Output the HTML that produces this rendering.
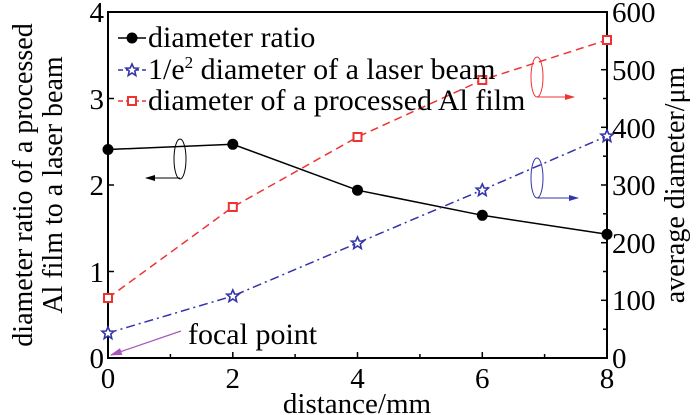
<!DOCTYPE html>
<html><head><meta charset="utf-8"><style>body{margin:0;background:#fff}svg{display:block}svg,svg text,svg tspan{font-family:"Liberation Serif","Times New Roman",Times,"DejaVu Serif","Noto Serif CJK SC",serif !important}</style></head><body>
<svg width="700" height="415" viewBox="0 0 700 415" style="font-family:'Liberation Serif','Times New Roman','DejaVu Serif','Noto Serif CJK SC',serif">
<defs>
<marker id="ak" markerWidth="10" markerHeight="6" refX="9" refY="3" orient="auto"><path d="M0,0 L10,3 L0,6z" fill="#000"/></marker>
<marker id="ar" markerWidth="10" markerHeight="6" refX="9" refY="3" orient="auto"><path d="M0,0 L10,3 L0,6z" fill="#e33"/></marker>
<marker id="ab" markerWidth="10" markerHeight="6" refX="9" refY="3" orient="auto"><path d="M0,0 L10,3 L0,6z" fill="#33a"/></marker>
<marker id="ap" markerWidth="10" markerHeight="6" refX="9" refY="3" orient="auto"><path d="M0,0 L10,3 L0,6z" fill="#a5b"/></marker>
<path id="st" d="M0,-6 L1.8,-2 6,-1.8 2.8,1 3.8,5.5 0,3 -3.8,5.5 -2.8,1 -6,-1.8 -1.8,-2z"/>
</defs>
<rect x="108" y="12" width="499" height="346" fill="none" stroke="#000" stroke-width="2"/>
<g stroke="#000" stroke-width="1.5">
<line x1="108" y1="271.5" x2="114" y2="271.5"/><line x1="108" y1="185" x2="114" y2="185"/><line x1="108" y1="98.5" x2="114" y2="98.5"/>
<line x1="170.4" y1="358" x2="170.4" y2="354"/><line x1="232.8" y1="358" x2="232.8" y2="352"/><line x1="295.1" y1="358" x2="295.1" y2="354"/><line x1="357.5" y1="358" x2="357.5" y2="352"/><line x1="419.9" y1="358" x2="419.9" y2="354"/><line x1="482.3" y1="358" x2="482.3" y2="352"/><line x1="544.6" y1="358" x2="544.6" y2="354"/>
<line x1="607" y1="329.2" x2="603" y2="329.2"/><line x1="607" y1="300.3" x2="601" y2="300.3"/><line x1="607" y1="271.5" x2="603" y2="271.5"/><line x1="607" y1="242.7" x2="601" y2="242.7"/><line x1="607" y1="213.8" x2="603" y2="213.8"/><line x1="607" y1="185" x2="601" y2="185"/><line x1="607" y1="156.2" x2="603" y2="156.2"/><line x1="607" y1="127.3" x2="601" y2="127.3"/><line x1="607" y1="98.5" x2="603" y2="98.5"/><line x1="607" y1="69.7" x2="601" y2="69.7"/><line x1="607" y1="40.8" x2="603" y2="40.8"/>
</g>
<g font-size="29" fill="#000">
<g text-anchor="end"><text x="104" y="368">0</text><text x="104" y="282">1</text><text x="104" y="195">2</text><text x="104" y="109">3</text><text x="104" y="22">4</text></g>
<g text-anchor="middle"><text x="108" y="388">0</text><text x="232.8" y="388">2</text><text x="357.5" y="388">4</text><text x="482.3" y="388">6</text><text x="607" y="388">8</text></g>
<g><text x="612" y="368">0</text><text x="612" y="310">100</text><text x="612" y="253">200</text><text x="612" y="195">300</text><text x="612" y="138">400</text><text x="612" y="80">500</text><text x="612" y="22">600</text></g>
<text x="357" y="413" text-anchor="middle">distance/mm</text>
<text transform="translate(32,185) rotate(-90)" text-anchor="middle" font-size="28">diameter ratio of a processed</text>
<text transform="translate(62,185) rotate(-90)" text-anchor="middle" font-size="28">Al film to a laser beam</text>
<text transform="translate(684,185) rotate(-90)" text-anchor="middle" font-size="28">average diameter/μm</text>
</g>
<polyline points="108,149.5 232.8,144.3 357.5,190.2 482.3,215.3 607,234.3" fill="none" stroke="#000" stroke-width="1.5"/>
<polyline points="108,298 232.8,207 357.5,137 482.3,80 607,40" fill="none" stroke="#e33" stroke-width="1.5" stroke-dasharray="8,5"/>
<polyline points="108,333 232.8,296 357.5,243 482.3,190 607,136" fill="none" stroke="#33a" stroke-width="1.5" stroke-dasharray="9,4,2,4"/>
<g fill="#000"><circle cx="108" cy="149.5" r="5.5"/><circle cx="232.8" cy="144.3" r="5.5"/><circle cx="357.5" cy="190.2" r="5.5"/><circle cx="482.3" cy="215.3" r="5.5"/><circle cx="607" cy="234.3" r="5.5"/></g>
<g fill="#fff" stroke="#e33" stroke-width="2"><rect x="104" y="294" width="8" height="8"/><rect x="228.8" y="203" width="8" height="8"/><rect x="353.5" y="133" width="8" height="8"/><rect x="478.3" y="76" width="8" height="8"/><rect x="603" y="36" width="8" height="8"/></g>
<g fill="#fff" stroke="#33a" stroke-width="1.6">
<use href="#st" x="108" y="333"/><use href="#st" x="232.8" y="296"/><use href="#st" x="357.5" y="243"/><use href="#st" x="482.3" y="190"/><use href="#st" x="607" y="136"/>
</g>
<line x1="118" y1="38" x2="146" y2="38" stroke="#000" stroke-width="1.5"/><circle cx="132" cy="38" r="5.5"/>
<line x1="118" y1="70" x2="146" y2="70" stroke="#33a" stroke-width="1.5" stroke-dasharray="5,3"/><use href="#st" x="132" y="70" fill="#fff" stroke="#33a" stroke-width="1.6"/>
<line x1="118" y1="101" x2="146" y2="101" stroke="#e33" stroke-width="1.5" stroke-dasharray="5,3"/><rect x="128" y="97" width="8" height="8" fill="#fff" stroke="#e33" stroke-width="2"/>
<g font-size="30" fill="#000"><text x="148" y="47">diameter ratio</text><text x="148" y="79">1/e<tspan font-size="17" dy="-11">2</tspan><tspan dy="11"> diameter of a laser beam</tspan></text><text x="148" y="110">diameter of a processed Al film</text>
<text x="188" y="344">focal point</text></g>
<ellipse cx="180" cy="159" rx="6" ry="20" fill="none" stroke="#000" stroke-width="1"/>
<line x1="180" y1="178" x2="146" y2="178" stroke="#000" stroke-width="1" marker-end="url(#ak)"/>
<ellipse cx="537" cy="77" rx="6" ry="20" fill="none" stroke="#e33" stroke-width="1"/>
<line x1="537" y1="97" x2="574" y2="97" stroke="#e33" stroke-width="1" marker-end="url(#ar)"/>
<ellipse cx="537" cy="178" rx="6" ry="20" fill="none" stroke="#33a" stroke-width="1"/>
<line x1="537" y1="198" x2="578" y2="198" stroke="#33a" stroke-width="1" marker-end="url(#ab)"/>
<line x1="181" y1="331" x2="111" y2="355" stroke="#a5b" stroke-width="1.2" marker-end="url(#ap)"/>
</svg>
</body></html>
